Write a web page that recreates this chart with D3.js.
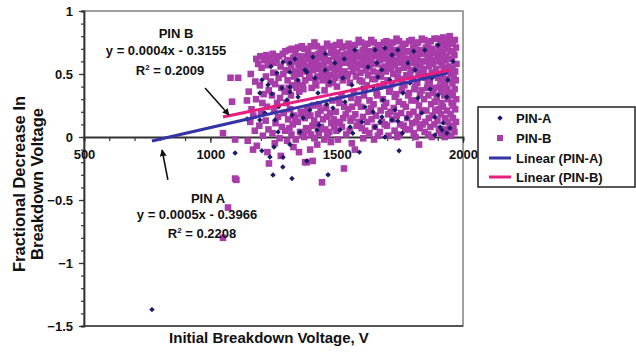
<!DOCTYPE html>
<html>
<head>
<meta charset="utf-8">
<script src="https://cdn.jsdelivr.net/npm/d3@7"></script>
<style>
  html, body { margin: 0; padding: 0; background: #fff; }
  svg { display: block; font-family: "Liberation Sans", Arial, sans-serif; }
</style>
</head>
<body>
<svg id="chart" width="636" height="352"></svg>
<script>
// ---------------- DATA ----------------
const xTicks = [500, 1000, 1500, 2000];
const yTicks = [-1.5, -1, -0.5, 0, 0.5, 1];
const seriesNames = ["PIN-A", "PIN-B", "Linear (PIN-A)", "Linear (PIN-B)"];

// PIN-A scatter: [initial breakdown voltage, fractional decrease]
const pinA = [
  [769,-1.37],[1098,-0.127],[1204,-0.11],[1252,-0.08],[1236,-0.159],[1288,-0.16],[1287,-0.238],
  [1248,-0.302],[1323,-0.33],[1382,-0.19],[1466,-0.30],[1590,-0.12],[1747,-0.11],[1315,-0.06],
  [1287,0.595],[1264,0.508],[1204,0.452],[1228,0.413],[1283,0.389],[1196,0.349],[1244,0.341],
  [1315,0.516],[1256,0.135],[1216,0.190],[1145,0.143],[1315,0.397],[1347,0.452],[1382,0.516],
  [1414,0.468],[1406,0.635],[1303,0.294],[1394,0.214],[1196,0.135],[1422,0.056],[1268,0.040],
  [1315,0.587],[1375,0.532],[1454,0.532],[1473,0.437],[1525,0.468],[1493,0.587],[1560,0.413],
  [1600,0.389],[1644,0.397],[1659,0.587],[1624,0.556],[1652,0.690],[1572,0.690],[1426,0.349],
  [1347,0.317],[1315,0.357],[1323,0.175],[1367,0.151],[1485,0.230],[1533,0.278],[1612,0.238],
  [1644,0.198],[1600,0.119],[1553,0.079],[1513,0.056],[1430,0.095],[1355,0.040],[1652,0.079],
  [1671,0.119],[1691,0.706],[1719,0.651],[1742,0.690],[1679,0.532],[1663,0.476],[1711,0.452],
  [1782,0.587],[1810,0.532],[1790,0.429],[1857,0.492],[1877,0.468],[1917,0.508],[1940,0.452],
  [1762,0.349],[1683,0.294],[1822,0.310],[1901,0.333],[1936,0.317],[1731,0.214],[1679,0.159],
  [1778,0.151],[1837,0.190],[1889,0.159],[1921,0.111],[1948,0.071],[1917,0.056],[1719,0.135],
  [1742,0.127],[1849,0.690],[1901,0.730],[1909,0.079],[1691,0.0],[1889,0.016],[1936,0.03],
  [1564,0.03],[1240,0.56],[1335,0.62],[1455,0.66],[1530,0.62],[1805,0.68],[1960,0.60],
  [1870,0.38],[1760,0.03],[1460,0.26],[1270,0.24]
];

// PIN-B scatter
const pinB = [
  [1080,0.47],[1110,0.47],[1086,0.28],[1145,0.29],[1050,0.03],[1098,-0.33],[1103,-0.34],
  [1070,-0.56],[1050,-0.80],[1442,-0.36],[1529,-0.25],[1382,-0.20],[1405,-0.19],[1572,-0.10],
  [1395,-0.10],[1826,-0.06],[1169,-0.10],[1232,-0.21],[1098,-0.02],[1375,-0.20],
  [1152,0.36],[1158,0.12],[1163,0.22],[1148,-0.03],[1160,0.50],
  [1182,0.62],[1178,0.44],[1181,0.30],[1170,0.17],[1176,0.05],[1184,-0.07],
  [1198,0.64],[1203,0.55],[1196,0.41],[1206,0.27],[1201,0.19],[1194,0.09],[1208,0.01],
  [1222,0.65],[1228,0.57],[1220,0.48],[1231,0.37],[1224,0.24],[1219,0.13],[1230,0.06],[1226,-0.12],
  [1247,0.66],[1253,0.59],[1249,0.51],[1256,0.42],[1244,0.33],[1252,0.21],[1258,0.11],[1246,0.03],[1255,-0.05],
  [1272,0.64],[1278,0.56],[1270,0.47],[1281,0.39],[1276,0.31],[1268,0.16],[1283,0.08],[1274,-0.01],[1279,-0.15],
  [1297,0.68],[1303,0.61],[1299,0.53],[1306,0.45],[1294,0.36],[1301,0.27],[1308,0.14],[1296,0.05],[1304,-0.03],
  [1322,0.70],[1328,0.63],[1320,0.56],[1331,0.48],[1324,0.41],[1319,0.33],[1330,0.17],[1326,0.10],[1321,0.02],[1329,-0.08],
  [1347,0.71],[1353,0.64],[1349,0.57],[1356,0.50],[1344,0.43],[1352,0.36],[1358,0.20],[1346,0.12],[1355,0.04],[1351,-0.12],
  [1372,0.70],[1378,0.64],[1370,0.58],[1381,0.52],[1376,0.45],[1368,0.38],[1383,0.22],[1374,0.15],[1379,0.07],[1371,0.00],
  [1397,0.72],[1403,0.65],[1399,0.59],[1406,0.53],[1394,0.47],[1401,0.39],[1408,0.25],[1396,0.17],[1404,0.09],[1399,0.02],
  [1422,0.72],[1428,0.66],[1420,0.60],[1431,0.54],[1424,0.48],[1419,0.41],[1430,0.26],[1426,0.18],[1421,0.10],[1429,0.03],[1423,-0.06],
  [1447,0.70],[1453,0.64],[1449,0.58],[1456,0.51],[1444,0.45],[1452,0.37],[1458,0.23],[1446,0.14],[1455,0.06],[1451,-0.02],
  [1472,0.72],[1478,0.67],[1470,0.61],[1481,0.55],[1476,0.49],[1468,0.42],[1483,0.29],[1474,0.19],[1479,0.11],[1471,0.04],[1477,-0.04],
  [1497,0.73],[1503,0.67],[1499,0.60],[1506,0.54],[1494,0.47],[1501,0.40],[1508,0.30],[1496,0.20],[1504,0.12],[1499,0.05],[1505,-0.02],
  [1522,0.71],[1528,0.65],[1520,0.59],[1531,0.52],[1524,0.45],[1519,0.33],[1530,0.24],[1526,0.15],[1521,0.08],
  [1547,0.74],[1553,0.68],[1549,0.62],[1556,0.56],[1544,0.50],[1552,0.43],[1558,0.31],[1546,0.22],[1555,0.13],[1551,0.05],[1560,-0.05],
  [1572,0.73],[1578,0.67],[1570,0.61],[1581,0.55],[1576,0.48],[1568,0.36],[1583,0.27],[1574,0.18],[1579,0.09],
  [1597,0.75],[1603,0.69],[1599,0.63],[1606,0.57],[1594,0.51],[1601,0.44],[1608,0.33],[1596,0.24],[1604,0.16],[1599,0.07],[1605,-0.01],
  [1622,0.74],[1628,0.68],[1620,0.62],[1631,0.56],[1624,0.49],[1619,0.41],[1630,0.29],[1626,0.20],[1621,0.12],[1629,0.03],
  [1647,0.75],[1653,0.69],[1649,0.64],[1656,0.58],[1644,0.52],[1652,0.46],[1658,0.35],[1646,0.26],[1655,0.17],[1651,0.08],[1648,-0.02],
  [1672,0.73],[1678,0.67],[1670,0.61],[1681,0.55],[1676,0.48],[1668,0.40],[1683,0.30],[1674,0.21],[1679,0.12],[1671,0.04],
  [1697,0.76],[1703,0.70],[1699,0.64],[1706,0.58],[1694,0.52],[1701,0.45],[1708,0.36],[1696,0.27],[1704,0.18],[1699,0.09],[1705,0.01],
  [1722,0.75],[1728,0.69],[1720,0.63],[1731,0.57],[1724,0.50],[1719,0.42],[1730,0.32],[1726,0.23],[1721,0.14],[1729,0.05],
  [1747,0.76],[1753,0.70],[1749,0.65],[1756,0.59],[1744,0.53],[1752,0.46],[1758,0.37],[1746,0.28],[1755,0.19],[1751,0.10],[1748,0.02],
  [1772,0.74],[1778,0.68],[1770,0.62],[1781,0.56],[1776,0.49],[1768,0.41],[1783,0.33],[1774,0.24],[1779,0.15],[1771,0.06],
  [1797,0.77],[1803,0.71],[1799,0.65],[1806,0.59],[1794,0.53],[1801,0.46],[1808,0.38],[1796,0.29],[1804,0.20],[1799,0.11],[1805,0.03],
  [1822,0.75],[1828,0.69],[1820,0.63],[1831,0.57],[1824,0.51],[1819,0.43],[1830,0.34],[1826,0.25],[1821,0.16],[1829,0.07],
  [1847,0.77],[1853,0.71],[1849,0.66],[1856,0.60],[1844,0.54],[1852,0.47],[1858,0.39],[1846,0.30],[1855,0.21],[1851,0.12],[1848,0.04],
  [1872,0.76],[1878,0.70],[1870,0.64],[1881,0.58],[1876,0.51],[1868,0.44],[1883,0.35],[1874,0.26],[1879,0.17],[1871,0.08],[1877,0.00],
  [1897,0.78],[1903,0.72],[1899,0.66],[1906,0.60],[1894,0.54],[1901,0.47],[1908,0.40],[1896,0.31],[1904,0.22],[1899,0.13],[1905,0.05],
  [1922,0.79],[1928,0.73],[1920,0.67],[1931,0.61],[1924,0.55],[1919,0.48],[1930,0.41],[1926,0.33],[1921,0.24],[1929,0.15],[1924,0.06],[1927,0.00],
  [1947,0.80],[1953,0.74],[1949,0.68],[1956,0.62],[1944,0.56],[1952,0.50],[1958,0.43],[1946,0.35],[1955,0.27],[1951,0.18],[1948,0.09],[1953,0.01],
  [1968,0.77],[1972,0.71],[1966,0.65],[1974,0.58],[1969,0.52],[1971,0.45],[1967,0.38],[1973,0.30],[1969,0.22],[1972,0.12],[1966,0.04],
  // in-between points filling the dense band
  [1189,0.58],[1213,0.61],[1211,0.34],[1237,0.62],[1239,0.44],[1262,0.61],[1264,0.27],[1287,0.66],[1289,0.50],[1291,0.19],
  [1312,0.69],[1314,0.59],[1310,0.39],[1316,0.22],[1313,0.07],
  [1337,0.67],[1339,0.60],[1335,0.52],[1341,0.39],[1336,0.15],[1338,-0.02],
  [1362,0.72],[1364,0.61],[1360,0.54],[1366,0.41],[1361,0.18],[1363,0.02],
  [1387,0.68],[1389,0.62],[1385,0.56],[1391,0.49],[1386,0.20],[1388,0.05],
  [1412,0.75],[1414,0.62],[1410,0.56],[1416,0.44],[1411,0.13],[1413,-0.01],
  [1437,0.69],[1439,0.63],[1435,0.57],[1441,0.50],[1436,0.21],[1438,0.08],
  [1462,0.74],[1464,0.60],[1460,0.54],[1466,0.47],[1461,0.16],[1463,0.01],
  [1487,0.70],[1489,0.64],[1485,0.57],[1491,0.51],[1486,0.43],[1488,0.14],[1490,0.08],
  [1512,0.75],[1514,0.62],[1510,0.56],[1516,0.49],[1511,0.27],[1513,0.11],
  [1537,0.72],[1539,0.66],[1535,0.59],[1541,0.48],[1536,0.18],[1538,0.02],
  [1562,0.71],[1564,0.64],[1560,0.58],[1566,0.52],[1561,0.24],[1563,0.15],
  [1587,0.77],[1589,0.64],[1585,0.58],[1591,0.45],[1586,0.30],[1588,0.12],
  [1612,0.72],[1614,0.66],[1610,0.59],[1616,0.53],[1611,0.38],[1613,0.05],
  [1637,0.77],[1639,0.65],[1635,0.60],[1641,0.46],[1636,0.23],[1638,0.14],
  [1662,0.71],[1664,0.65],[1660,0.58],[1666,0.51],[1661,0.33],[1663,0.01],
  [1687,0.75],[1689,0.68],[1685,0.62],[1691,0.56],[1686,0.42],[1688,0.24],[1690,0.10],
  [1712,0.73],[1714,0.66],[1710,0.60],[1716,0.54],[1711,0.38],[1713,0.20],
  [1737,0.78],[1739,0.67],[1735,0.61],[1741,0.48],[1736,0.34],[1738,0.17],[1740,0.00],
  [1762,0.73],[1764,0.67],[1760,0.60],[1766,0.55],[1761,0.42],[1763,0.26],[1765,0.09],
  [1787,0.76],[1789,0.68],[1785,0.62],[1791,0.50],[1786,0.35],[1788,0.18],[1790,0.06],
  [1812,0.74],[1814,0.67],[1810,0.61],[1816,0.55],[1811,0.40],[1813,0.29],[1815,0.12],[1812,0.00],
  [1837,0.78],[1839,0.66],[1835,0.60],[1841,0.49],[1836,0.37],[1838,0.21],[1840,0.10],
  [1862,0.74],[1864,0.68],[1860,0.62],[1866,0.56],[1861,0.42],[1863,0.33],[1865,0.15],[1862,0.02],
  [1887,0.78],[1889,0.67],[1885,0.61],[1891,0.49],[1886,0.39],[1888,0.28],[1890,0.21],[1887,0.10],
  [1912,0.76],[1914,0.69],[1910,0.63],[1916,0.57],[1911,0.45],[1913,0.36],[1915,0.27],[1912,0.18],[1914,0.03],
  [1937,0.77],[1939,0.70],[1935,0.64],[1941,0.53],[1936,0.46],[1938,0.38],[1940,0.30],[1937,0.21],[1939,0.12],[1936,0.04],
  [1960,0.75],[1962,0.68],[1958,0.55],[1963,0.47],[1959,0.33],[1961,0.25],[1960,0.15],[1962,0.07]
];

// Linear trend lines (fitted, end points as drawn)
const trendA = [[769, -0.032], [1940, 0.508]];
const trendB = [[1050, 0.159], [1948, 0.532]];

// Annotations
const annoB = ["PIN B", "y = 0.0004x - 0.3155", "R", "0.2009"];
const annoA = ["PIN A", "y = 0.0005x - 0.3966", "R", "0.2208"];
const arrowB = [[979, 0.389], [1074, 0.175]];
const arrowA = [[832, -0.341], [809, -0.103]];

// ---------------- CHART ----------------
const svg = d3.select("#chart");
const plot = { left: 84, right: 463, top: 11, bottom: 326 };
const x = d3.scaleLinear().domain([500, 2000]).range([plot.left, plot.right]);
const y = d3.scaleLinear().domain([-1.5, 1]).range([plot.bottom, plot.top]);

const colA = "#1c1b66", colB = "#a83ca9", lineA = "#3434a6", lineB = "#e61e80";
const fontBold = "bold 13px 'Liberation Sans', Arial, sans-serif";

svg.append("defs").append("marker")
  .attr("id", "arrowhead").attr("viewBox", "0 0 10 10")
  .attr("refX", 9).attr("refY", 5).attr("markerWidth", 7).attr("markerHeight", 7)
  .attr("markerUnits", "userSpaceOnUse").attr("orient", "auto")
  .append("path").attr("d", "M0,0 L10,5 L0,10 Z").attr("fill", "#111");

// plot border
svg.append("rect")
  .attr("x", plot.left).attr("y", plot.top)
  .attr("width", plot.right - plot.left).attr("height", plot.bottom - plot.top)
  .attr("fill", "#fff").attr("stroke", "#808080").attr("stroke-width", 1.5);
svg.append("line").attr("x1", plot.left).attr("x2", plot.right)
  .attr("y1", plot.bottom).attr("y2", plot.bottom).attr("stroke", "#555").attr("stroke-width", 1.8);

// y axis with minor ticks
const yAxisG = svg.append("g").attr("transform", `translate(${plot.left},0)`);
yAxisG.call(d3.axisLeft(y).tickValues(d3.range(-15, 11).map(v => v / 10)).tickSize(3).tickFormat(""));
yAxisG.call(g => g.selectAll(".tick line").attr("stroke", "#333").attr("stroke-width", 1.2));
yAxisG.select(".domain").attr("stroke", "#333").attr("stroke-width", 1.8);
const yMajor = svg.append("g").attr("transform", `translate(${plot.left},0)`)
  .call(d3.axisLeft(y).tickValues(yTicks).tickSize(5).tickPadding(6).tickFormat(d => d3.format("")(d)));
yMajor.select(".domain").remove();
yMajor.selectAll(".tick line").attr("stroke", "#333").attr("stroke-width", 1.2);
yMajor.selectAll(".tick text").style("font", fontBold).attr("fill", "#111");

// x axis at y = 0
const xAxisG = svg.append("g").attr("transform", `translate(0,${y(0)})`);
xAxisG.call(d3.axisBottom(x).tickValues(d3.range(500, 2001, 100)).tickSize(4).tickFormat(""));
xAxisG.selectAll(".tick line").attr("stroke", "#333").attr("stroke-width", 1.2);
xAxisG.select(".domain").attr("stroke", "#333").attr("stroke-width", 1.8);
const xMajor = svg.append("g").attr("transform", `translate(0,${y(0)})`)
  .call(d3.axisBottom(x).tickValues(xTicks).tickSize(6).tickPadding(7).tickFormat(d3.format("")));
xMajor.select(".domain").remove();
xMajor.selectAll(".tick line").attr("stroke", "#333").attr("stroke-width", 1.2);
xMajor.selectAll(".tick text").style("font", fontBold).attr("fill", "#111");

// scatter PIN-B (squares)
const sq = 6.6;
svg.append("g").selectAll("rect").data(pinB).join("rect")
  .attr("x", d => x(d[0]) - sq / 2).attr("y", d => y(d[1]) - sq / 2)
  .attr("width", sq).attr("height", sq).attr("fill", colB);

// scatter PIN-A (diamonds)
const diamond = d3.symbol().type(d3.symbolSquare).size(15);
svg.append("g").selectAll("path").data(pinA).join("path")
  .attr("d", diamond)
  .attr("transform", d => `translate(${x(d[0])},${y(d[1])}) rotate(45)`)
  .attr("fill", colA);

// trend lines
const line = d3.line().x(d => x(d[0])).y(d => y(d[1]));
svg.append("path").datum(trendA).attr("d", line).attr("stroke", lineA).attr("stroke-width", 3).attr("fill", "none");
svg.append("path").datum(trendB).attr("d", line).attr("stroke", lineB).attr("stroke-width", 3).attr("fill", "none");

// annotations
function annotate(lines, pos) {
  const g = svg.append("g").style("font", fontBold).attr("fill", "#111");
  g.append("text").attr("x", pos[0][0]).attr("y", pos[0][1]).attr("text-anchor", "middle").text(lines[0]);
  g.append("text").attr("x", pos[1][0]).attr("y", pos[1][1]).attr("text-anchor", "middle").text(lines[1]);
  const t = g.append("text").attr("x", pos[2][0]).attr("y", pos[2][1]).attr("text-anchor", "middle");
  t.append("tspan").text(lines[2]);
  t.append("tspan").attr("dy", -5).style("font-size", "8px").text("2");
  t.append("tspan").attr("dy", 5).text(" = " + lines[3]);
}
annotate(annoB, [[176, 38], [166, 55], [170, 75]]);
annotate(annoA, [[208, 203], [197, 219], [202, 238]]);

[arrowB, arrowA].forEach(a => {
  svg.append("line")
    .attr("x1", x(a[0][0])).attr("y1", y(a[0][1]))
    .attr("x2", x(a[1][0])).attr("y2", y(a[1][1]))
    .attr("stroke", "#111").attr("stroke-width", 1.6).attr("marker-end", "url(#arrowhead)");
});

// axis titles
svg.append("text").attr("x", 269).attr("y", 343).attr("text-anchor", "middle")
  .style("font", "bold 15px 'Liberation Sans', Arial, sans-serif").attr("fill", "#111")
  .text("Initial Breakdown Voltage, V");
const yt = svg.append("g").attr("transform", "translate(0,184) rotate(-90)")
  .style("font", "bold 16.5px 'Liberation Sans', Arial, sans-serif").attr("fill", "#111");
yt.append("text").attr("x", 0).attr("y", 25).attr("text-anchor", "middle").text("Fractional Decrease In");
yt.append("text").attr("x", 0).attr("y", 43).attr("text-anchor", "middle").text("Breakdown Voltage");

// legend
const lg = svg.append("g");
lg.append("rect").attr("x", 478).attr("y", 107).attr("width", 157).attr("height", 80)
  .attr("fill", "#fff").attr("stroke", "#222").attr("stroke-width", 1.5);
const rows = [118, 138, 158, 177];
const items = lg.selectAll("g.item").data(seriesNames).join("g").attr("class", "item")
  .attr("transform", (d, i) => `translate(0,${rows[i]})`);
items.append("text").attr("x", 516).attr("y", 5).style("font", fontBold).attr("fill", "#111").text(d => d);
items.filter((d, i) => i === 0).append("path").attr("d", diamond).attr("transform", "translate(500,0) rotate(45)").attr("fill", colA);
items.filter((d, i) => i === 1).append("rect").attr("x", 497).attr("y", -3).attr("width", 6).attr("height", 6).attr("fill", colB);
items.filter((d, i) => i === 2).append("line").attr("x1", 489).attr("x2", 511).attr("stroke", lineA).attr("stroke-width", 3);
items.filter((d, i) => i === 3).append("line").attr("x1", 489).attr("x2", 511).attr("stroke", lineB).attr("stroke-width", 3);
</script>
</body>
</html>
